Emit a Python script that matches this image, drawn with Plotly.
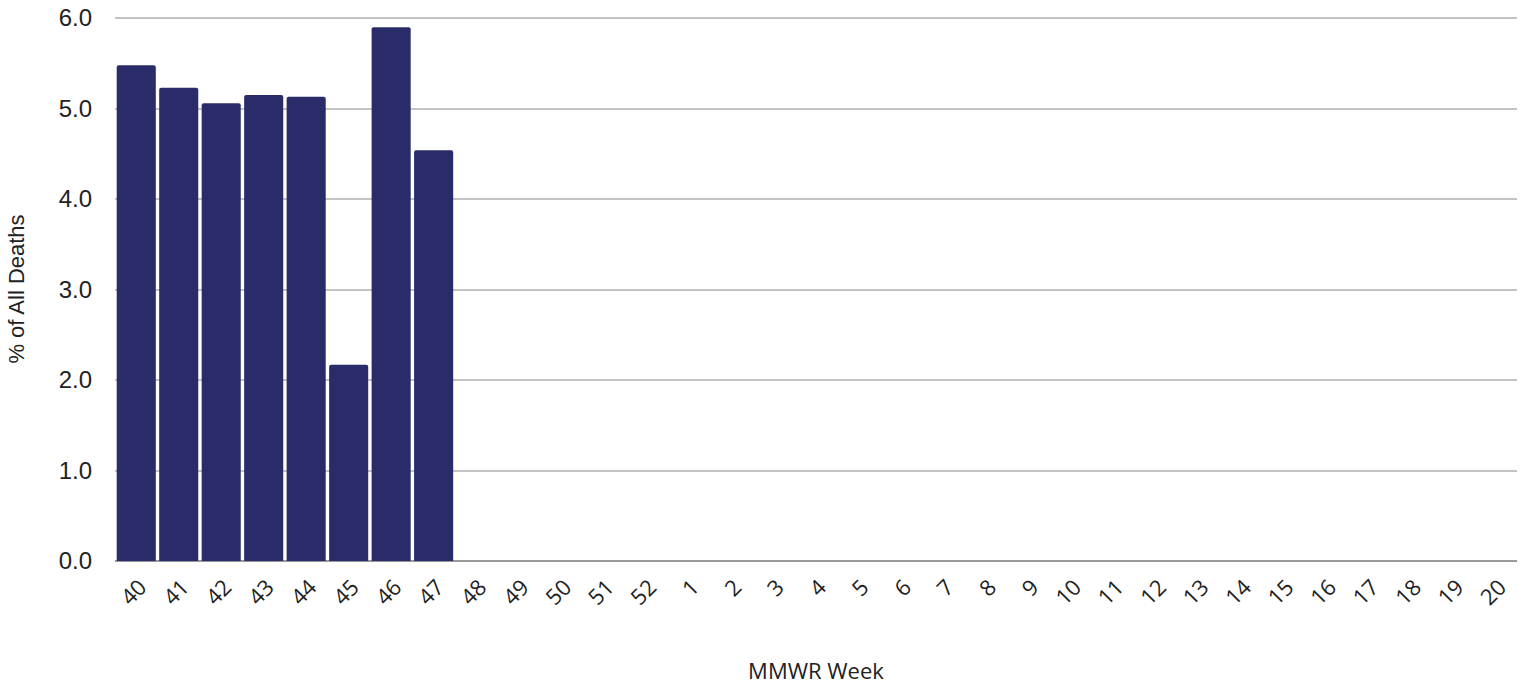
import plotly.graph_objects as go

weeks = ["40", "41", "42", "43", "44", "45", "46", "47", "48", "49", "50", "51", "52",
         "1", "2", "3", "4", "5", "6", "7", "8", "9", "10", "11", "12", "13", "14",
         "15", "16", "17", "18", "19", "20"]
pct_deaths = [5.48, 5.23, 5.06, 5.15, 5.13, 2.17, 5.90, 4.54] + [None] * 25
y_ticks = [0, 1, 2, 3, 4, 5, 6]
y_tick_labels = ["0.0", "1.0", "2.0", "3.0", "4.0", "5.0", "6.0"]

fig = go.Figure(go.Bar(
    x=weeks, y=pct_deaths,
    marker=dict(color="#2a2c69", line=dict(width=0), cornerradius=2),
    hoverinfo="x+y",
))

fig.update_layout(
    width=1529, height=685,
    margin=dict(l=115, r=12, t=17, b=124),
    plot_bgcolor="white", paper_bgcolor="white",
    bargap=0.08,
    showlegend=False,
    font=dict(family="Liberation Sans, Arial, sans-serif", color="#222"),
)
fig.update_xaxes(
    type="category",
    categoryorder="array", categoryarray=weeks,
    tickangle=-45,
    tickfont=dict(family="Open Sans, sans-serif", size=22, color="#222"),
    ticklabelshift=4,
    ticklabelstandoff=8,
    ticks="", showgrid=False,
    showline=False,
    automargin=False,
    title=dict(text="MMWR Week", font=dict(family="Open Sans, sans-serif", size=22, color="#222"), standoff=56),
)
fig.update_yaxes(
    range=[0, 6.012], tickvals=y_ticks, ticktext=y_tick_labels,
    tickfont=dict(size=24, color="#222"),
    ticklabelstandoff=22,
    showgrid=True, gridcolor="#c4c4c4", gridwidth=1.5,
    zeroline=True, zerolinecolor="#9a9a9a", zerolinewidth=1.5,
    showline=False,
    automargin=False,
    title=dict(text="% of All Deaths", font=dict(size=22, color="#222"), standoff=27),
)

fig.write_html("out.html", config={"displayModeBar": False},
               post_script="document.body.style.margin='0';document.body.style.overflow='hidden';")
